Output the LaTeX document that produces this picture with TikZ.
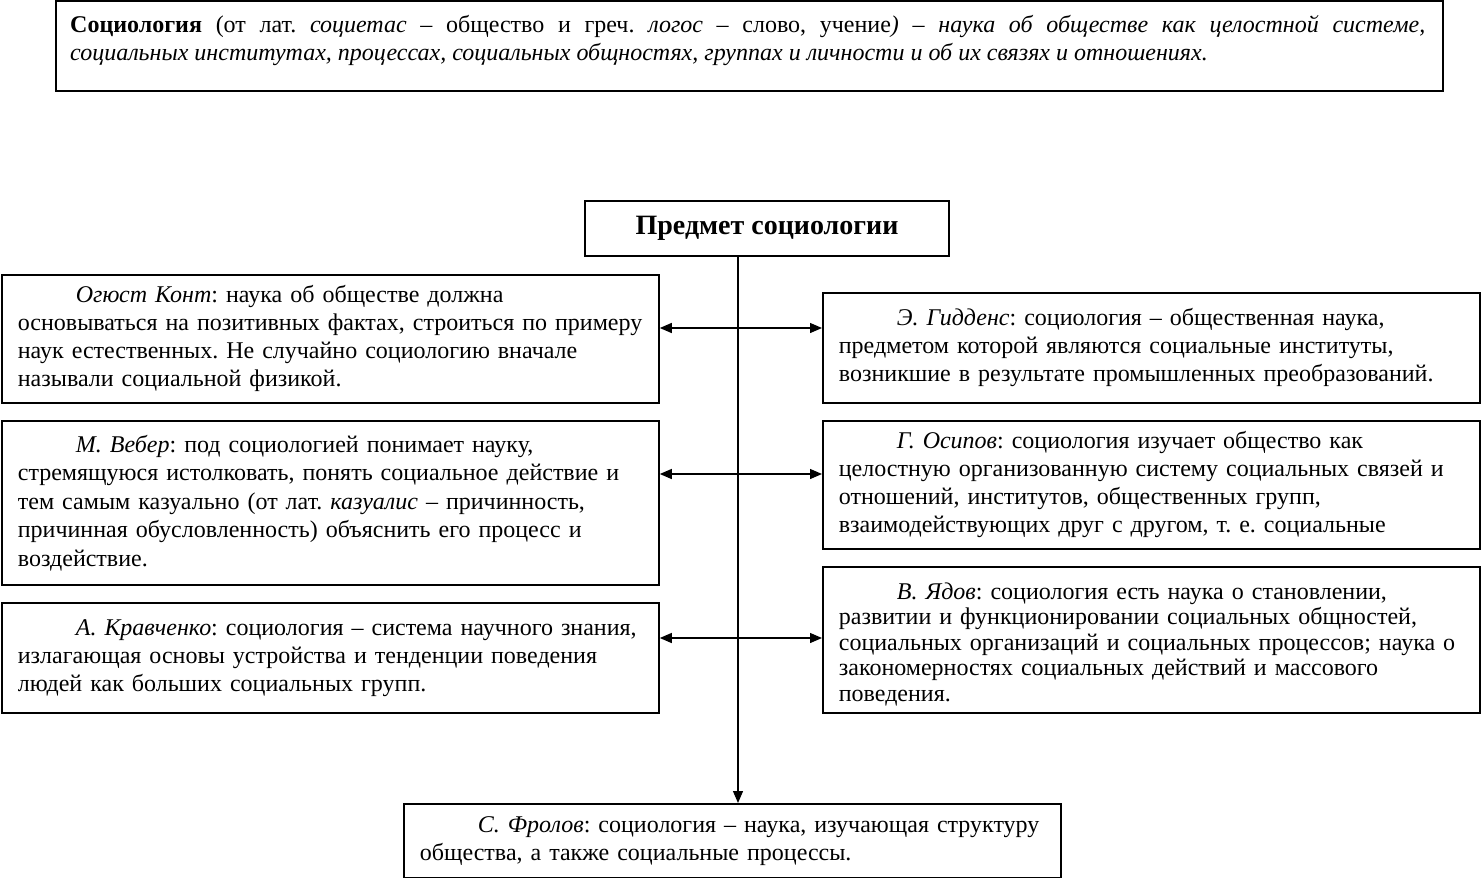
\documentclass[tikz,border=0pt]{standalone}
\usepackage{fontspec}
\setmainfont{Liberation Serif}
\usetikzlibrary{arrows.meta,fit}
\frenchspacing
\begin{document}
\begin{tikzpicture}[x=1pt,y=-1pt,
  frame/.style={draw, line width=1.8pt},
  txt/.style={font=\fontsize{24}{28}\selectfont},
  box/.style={frame, txt, anchor=north west, inner xsep=16pt, inner ysep=0pt,
    text width=625pt, minimum width=657pt, align=left},
  arr/.style={line width=1.3pt, -{Triangle[length=12pt,width=10pt]}},
  darr/.style={line width=1.3pt, {Triangle[length=12pt,width=10pt]}-{Triangle[length=12pt,width=10pt]}}]
\useasboundingbox (0,0) rectangle (1481,878);

% definition box
\node (defbox) [frame, inner sep=0pt, fit={(56,1) (1443,91)}] {};
\node (def) [txt, anchor=north west, inner sep=0pt, text width=1355pt, align=justify] at (70,15)
 {\textbf{Социология} (от лат. \textit{социетас} – общество и греч. \textit{логос} – слово, учение\textit{) – наука об обществе как целостной системе,}\linebreak
  \textit{социальных институтах, процессах, социальных общностях, группах и личности и об их связях и отношениях.}};

% subject
\node (subj) [frame, minimum width=364pt, minimum height=55pt, inner sep=0pt,
  font=\bfseries\fontsize{28}{30}\selectfont] at (767,228.5) {Предмет социологии};

% left boxes
\node (kont) [box, minimum height=128pt] at (1,274)
 {\hspace*{58pt}\textit{Огюст Конт}: наука об обществе должна\\
  основываться на позитивных фактах, строиться по примеру\\
  наук естественных. Не случайно социологию вначале\\
  называли социальной физикой.};
\node (veb) [box, minimum height=164pt, font=\fontsize{24}{28.5}\selectfont] at (1,420)
 {\hspace*{58pt}\textit{М. Вебер}: под социологией понимает науку,\\
  стремящуюся истолковать, понять социальное действие и\\
  тем самым казуально (от лат. \textit{казуалис} – причинность,\\
  причинная обусловленность) объяснить его процесс и\\
  воздействие.};
\node (krav) [box, minimum height=110pt] at (1,602)
 {\hspace*{58pt}\textit{А. Кравченко}: социология – система научного знания,\\
  излагающая основы устройства и тенденции поведения\\
  людей как больших социальных групп.};

% right boxes
\node (gid) [box, minimum height=110pt] at (822,292)
 {\hspace*{58pt}\textit{Э. Гидденс}: социология – общественная наука,\\
  предметом которой являются социальные институты,\\
  возникшие в результате промышленных преобразований.};
\node (osi) [box, minimum height=128pt] at (822,420)
 {\hspace*{58pt}\textit{Г. Осипов}: социология изучает общество как\\
  целостную организованную систему социальных связей и\\
  отношений, институтов, общественных групп,\\
  взаимодействующих друг с другом, т. е. социальные};
\node (yad) [box, minimum height=146pt, font=\fontsize{24}{25.5}\selectfont] at (822,566)
 {\rule{0pt}{25pt}\hspace*{58pt}\textit{В. Ядов}: социология есть наука о становлении,\\
  развитии и функционировании социальных общностей,\\
  социальных организаций и социальных процессов; наука о\\
  закономерностях социальных действий и массового\\
  поведения.};

% bottom box
\node (fro) [box, minimum height=74pt] at (403,803)
 {\hspace*{58pt}\textit{С. Фролов}: социология – наука, изучающая структуру\\
  общества, а также социальные процессы.};

% connectors
\coordinate (sp) at (738,0);
\coordinate (r1) at (738,328);
\coordinate (r2) at (738,474);
\coordinate (r3) at (738,638);
\draw[arr] (sp |- subj.south) -- (sp |- fro.north);
\draw[darr] (r1 -| kont.east) -- (r1 -| gid.west);
\draw[darr] (r2 -| veb.east) -- (r2 -| osi.west);
\draw[darr] (r3 -| krav.east) -- (r3 -| yad.west);
\end{tikzpicture}
\end{document}
